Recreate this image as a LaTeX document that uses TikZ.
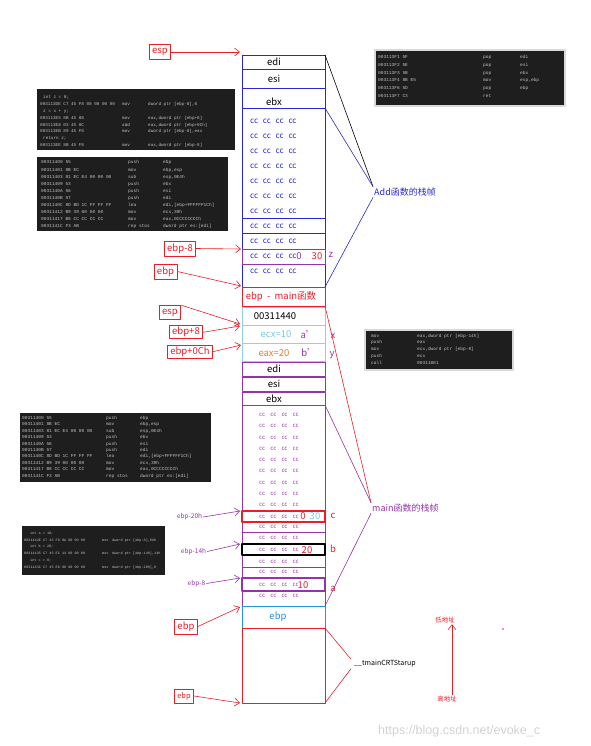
\documentclass[tikz,border=0pt]{standalone}
\usepackage{fontspec}
\setmainfont{Noto Sans CJK SC}
\newfontfamily\codefamily{Liberation Mono}
\newfontfamily\wmfamily{Liberation Sans}
\usepackage{xcolor}
\usepackage{array}
\usetikzlibrary{arrows.meta,calc}

\definecolor{addblue}{RGB}{40,40,210}
\definecolor{ccblue}{RGB}{50,50,210}
\definecolor{frmpurple}{RGB}{150,50,170}
\definecolor{lblred}{RGB}{235,30,40}
\definecolor{cellcyan}{RGB}{140,210,235}
\definecolor{ecxblue}{RGB}{120,200,230}
\definecolor{eaxorange}{RGB}{240,120,40}
\definecolor{ebpblue}{RGB}{30,150,215}
\definecolor{codebg}{RGB}{30,30,30}
\definecolor{codefg}{RGB}{195,195,195}
\definecolor{wmgray}{RGB}{210,210,210}

\newcommand\asmfont[2]{\codefamily\fontsize{#1}{#2}\selectfont}
\newcommand\ccrow[1]{cc\hspace{#1}cc\hspace{#1}cc\hspace{#1}cc}
\newcommand\srcln[2]{\multicolumn{3}{@{}l@{}}{\hspace{#1}#2}}

\begin{document}
\begin{tikzpicture}[x=1pt,y=-1pt,line join=round,
  >={Straight Barb[length=5pt,width=8pt]},
  lbl/.style={draw=lblred,text=lblred,line width=0.7pt,inner xsep=3pt,inner ysep=0pt,
    minimum height=15pt,font=\fontsize{9.5}{10}\selectfont},
  reg/.style={inner sep=0pt,font=\fontsize{9.5}{10}\selectfont},
  ccadd/.style={anchor=west,inner sep=0pt,text=ccblue,font=\fontsize{8}{9}\selectfont},
  ccmain/.style={anchor=west,inner sep=0pt,text=frmpurple,font=\fontsize{6}{7}\selectfont},
  asm/.style={anchor=base west,inner sep=0pt,text=codefg},
  ptr/.style={inner sep=1pt,text=frmpurple,font=\fontsize{6.5}{7}\selectfont},
  redarr/.style={->,draw=lblred,line width=0.6pt},
  purarr/.style={->,draw=frmpurple,line width=0.6pt}]
  \useasboundingbox (0,0) rectangle (590,746);

  % disassembly screenshots
  \fill[codebg] (37,89) rectangle (235,150);
  \node[asm,font=\asmfont{4.3}{6.9}] (addbody) at (40,98.5) {\begin{tabular}[t]{@{}p{82pt}@{}p{26pt}@{}l@{}}
    \srcln{3pt}{int z = 0;}\\
    003113DE C7 45 F8 00 00 00 00 & mov & dword ptr [ebp-8],0\\
    \srcln{3pt}{z = x + y;}\\
    003113E5 8B 45 08 & mov & eax,dword ptr [ebp+8]\\
    003113E8 03 45 0C & add & eax,dword ptr [ebp+0Ch]\\
    003113EB 89 45 F8 & mov & dword ptr [ebp-8],eax\\
    \srcln{3pt}{return z;}\\
    003113EE 8B 45 F8 & mov & eax,dword ptr [ebp-8]
  \end{tabular}};
  \fill[codebg] (37,157) rectangle (228,231);
  \node[asm,font=\asmfont{4.5}{7.05}] (addprolog) at (41,164) {\begin{tabular}[t]{@{}p{87pt}@{}p{35pt}@{}l@{}}
    00311400 55 & push & ebp\\
    00311401 8B EC & mov & ebp,esp\\
    00311403 81 EC E4 00 00 00 & sub & esp,0E4h\\
    00311409 53 & push & ebx\\
    0031140A 56 & push & esi\\
    0031140B 57 & push & edi\\
    0031140C 8D BD 1C FF FF FF & lea & edi,[ebp+FFFFFF1Ch]\\
    00311412 B9 39 00 00 00 & mov & ecx,39h\\
    00311417 B8 CC CC CC CC & mov & eax,0CCCCCCCCh\\
    0031141C F3 AB & rep stos & dword ptr es:[edi]
  \end{tabular}};
  \filldraw[fill=codebg,draw=gray!30,line width=1.2pt] (375,50) rectangle (565,106);
  \node[asm,font=\asmfont{4.5}{7.8}] (addepilog) at (378,58.5) {\begin{tabular}[t]{@{}p{105pt}@{}p{37pt}@{}l@{}}
    003113F1 5F & pop & edi\\
    003113F2 5E & pop & esi\\
    003113F3 5B & pop & ebx\\
    003113F4 8B E5 & mov & esp,ebp\\
    003113F6 5D & pop & ebp\\
    003113F7 C3 & ret &
  \end{tabular}};
  \filldraw[fill=codebg,draw=gray!30,line width=1.2pt] (365,330) rectangle (513,370);
  \node[asm,font=\asmfont{4.5}{6.8}] (callseq) at (371,337) {\begin{tabular}[t]{@{}p{46pt}@{}l@{}}
    mov & eax,dword ptr [ebp-14h]\\
    push & eax\\
    mov & ecx,dword ptr [ebp-8]\\
    push & ecx\\
    call & 003110E1
  \end{tabular}};
  \fill[codebg] (20,413) rectangle (211,482);
  \node[asm,font=\asmfont{4.5}{6.4}] (mainprolog) at (22,419.5) {\begin{tabular}[t]{@{}p{84pt}@{}p{34pt}@{}l@{}}
    00311400 55 & push & ebp\\
    00311401 8B EC & mov & ebp,esp\\
    00311403 81 EC E4 00 00 00 & sub & esp,0E4h\\
    00311409 53 & push & ebx\\
    0031140A 56 & push & esi\\
    0031140B 57 & push & edi\\
    0031140C 8D BD 1C FF FF FF & lea & edi,[ebp+FFFFFF1Ch]\\
    00311412 B9 39 00 00 00 & mov & ecx,39h\\
    00311417 B8 CC CC CC CC & mov & eax,0CCCCCCCCh\\
    0031141C F3 AB & rep stos & dword ptr es:[edi]
  \end{tabular}};
  \fill[codebg] (22,526) rectangle (165,575);
  \node[asm,font=\asmfont{3.5}{6.7}] (mainbody) at (24,534.5) {\begin{tabular}[t]{@{}p{78pt}@{}p{10pt}@{}l@{}}
    \srcln{6pt}{int a = 10;}\\
    0031142E C7 45 F8 0A 00 00 00 & mov & dword ptr [ebp-8],0Ah\\
    \srcln{6pt}{int b = 20;}\\
    00311435 C7 45 EC 14 00 00 00 & mov & dword ptr [ebp-14h],14h\\
    \srcln{6pt}{int c = 0;}\\
    0031143C C7 45 E0 00 00 00 00 & mov & dword ptr [ebp-20h],0
  \end{tabular}};

  % Add frame
  \draw[addblue,line width=0.8pt] (242,55) rectangle (325,69);
  \draw[addblue,line width=0.8pt] (242,69) rectangle (325,88);
  \draw[addblue,line width=0.8pt] (242,88) rectangle (325,108);
  \draw[addblue,line width=0.8pt] (242,108) rectangle (325,287);
  \foreach \yy in {218,233,249,264}
    \draw[addblue,line width=0.8pt] (242,\yy) -- (325,\yy);
  \draw[frmpurple,line width=0.8pt] (242,249) rectangle (325,264);
  \node[reg] (addedi) at (274,62) {edi};
  \node[reg] (addesi) at (274,79) {esi};
  \node[reg] (addebx) at (274,102) {ebx};
  \foreach \yy [count=\k] in {121,136,151,166,181,196,211,226,241,256,271}
    \node[ccadd] (addcc\k) at (250,\yy) {\ccrow{4.8pt}};
  \node[reg,text=frmpurple] (zzero) at (299,256) {0};
  \node[reg,text=lblred] (zval) at (317,256) {30};
  \node[reg,text=frmpurple] (zlbl) at (331,255) {z};

  % arguments and return address
  \draw[lblred,line width=0.8pt] (242,287) rectangle (325,306);
  \node[reg,text=lblred] (mainebp) at (281,297) {ebp\ \ -\ \ main函数};
  \draw[cellcyan,line width=0.8pt] (242,307) rectangle (325,325);
  \draw[cellcyan,line width=0.8pt] (242,325) rectangle (325,343);
  \draw[cellcyan,line width=0.8pt] (242,343) rectangle (325,361);
  \node[reg] (retaddr) at (275,316) {00311440};
  \node[reg,text=ecxblue] (argx) at (276,334) {ecx=10};
  \node[reg,text=frmpurple] (argxp) at (308,335) {a'};
  \node[reg,text=eaxorange] (argy) at (274,353) {eax=20};
  \node[reg,text=frmpurple] (argyp) at (309,353) {b'};
  \node[reg,text=frmpurple] (xlbl) at (333,336) {x};
  \node[reg,text=frmpurple] (ylbl) at (332,355) {y};

  % main frame
  \draw[frmpurple,line width=0.8pt] (242,362) rectangle (325,376);
  \draw[frmpurple,line width=0.8pt] (242,377) rectangle (325,391);
  \draw[frmpurple,line width=0.8pt] (242,392) rectangle (325,405);
  \draw[frmpurple,line width=0.8pt] (242,405) rectangle (325,606);
  \draw[frmpurple,line width=0.8pt] (242,532) -- (325,532);
  \draw[frmpurple,line width=0.8pt] (242,567) -- (325,567);
  \node[reg] (mainedi) at (274,369) {edi};
  \node[reg] (mainesi) at (274,384) {esi};
  \node[reg] (mainebx) at (274,399) {ebx};
  \foreach \yy [count=\k] in {415,426.2,437.5,448.7,460,471.2,482.5,493.7,505,516.5,527.3,538.3,549.8,561.7,572.3,584.7,596}
    \node[ccmain] (maincc\k) at (259,\yy) {\ccrow{5.2pt}};
  \draw[lblred,line width=1.6pt] (242,511) rectangle (325,522);
  \draw[black,line width=1.3pt] (242,544) rectangle (325,555);
  \draw[frmpurple,line width=1.2pt] (242,578) rectangle (325,591);
  \node[reg,text=lblred] (cnew) at (303,516.5) {0};
  \node[reg,text=ecxblue] (cold) at (315,516.5) {30};
  \node[reg,text=lblred] (clbl) at (333,516) {c};
  \node[reg,text=lblred] (bval) at (307,550) {20};
  \node[reg,text=lblred] (blbl) at (333,549) {b};
  \node[reg,text=lblred] (aval) at (303,585.5) {10};
  \node[reg,text=lblred] (albl) at (333,589) {a};

  % caller of main
  \draw[ebpblue,line width=0.8pt] (242,606) rectangle (325,628);
  \node[reg,text=ebpblue] (ebpcrt) at (278,617) {ebp};
  \draw[lblred,line width=0.8pt] (242,628) rectangle (325,703);

  % pointers
  \coordinate (espA) at (240,52);
  \coordinate (zslot) at (241,249);
  \coordinate (ebpA) at (241,286);
  \coordinate (espM) at (240,324);
  \coordinate (xslot) at (240,326);
  \coordinate (yslot) at (241,345);
  \coordinate (cslot) at (240,511);
  \coordinate (bslot) at (240,544);
  \coordinate (aslot) at (240,578);
  \coordinate (ebpM) at (240,607);
  \coordinate (ebpC) at (240,703);
  \node[lbl] (esptop) at (160,52) {esp};
  \node[lbl] (ebpm8) at (180,248.5) {ebp-8};
  \node[lbl] (ebpadd) at (165.5,271.5) {ebp};
  \node[lbl,minimum height=14pt] (espmain) at (170,312.5) {esp};
  \node[lbl,minimum height=13pt] (ebpp8) at (186,332.3) {ebp+8};
  \node[lbl,minimum height=13pt] (ebppc) at (190,351.7) {ebp+0Ch};
  \node[ptr] (ebpm20) at (189.5,517) {ebp-20h};
  \node[ptr] (ebpm14) at (193.5,551.5) {ebp-14h};
  \node[ptr] (ebpm8b) at (196.5,583.5) {ebp-8};
  \node[lbl] (ebpold) at (186,626.5) {ebp};
  \node[lbl,minimum height=14pt,font=\fontsize{7.5}{8}\selectfont] (ebpbase) at (184,696) {ebp};
  \draw[redarr] (esptop.east) -- (espA);
  \draw[redarr] (ebpm8.east) -- (zslot);
  \draw[redarr] (ebpadd.east) -- (ebpA);
  \draw[redarr] (espmain.north east) -- (espM);
  \draw[redarr] (ebpp8.east) -- (xslot);
  \draw[redarr] (ebppc.east) -- (yslot);
  \draw[purarr] (ebpm20.east) -- (cslot);
  \draw[purarr] (ebpm14.east) -- (bslot);
  \draw[purarr] (ebpm8b.east) -- (aslot);
  \draw[redarr] (ebpold.east) -- (ebpM);
  \draw[redarr] (ebpbase.east) -- (ebpC);

  % frame brackets
  \coordinate (addtop) at (325,55);
  \coordinate (addsave) at (325,108);
  \coordinate (addbot) at (325,287);
  \coordinate (maintop) at (325,306);
  \coordinate (mainsave) at (325,405);
  \coordinate (mainbot) at (325,606);
  \coordinate (crttop) at (325,628);
  \coordinate (crtbot) at (325,703);
  \node[anchor=west,inner sep=1pt,text=addblue,font=\fontsize{9}{10}\selectfont] (addlbl) at (373,192) {Add函数的栈帧};
  \node[anchor=west,inner sep=1pt,text=frmpurple,font=\fontsize{9}{10}\selectfont] (mainlbl) at (371,508) {main函数的栈帧};
  \node[anchor=west,inner xsep=3pt,inner ysep=1pt,font=\fontsize{7}{8}\selectfont] (crtlbl) at (351,664) {\_\_tmainCRTStarup};
  \draw[black,line width=0.6pt] (addtop) -- (addlbl.north west);
  \draw[addblue,line width=0.6pt] (addsave) -- (addlbl.north west);
  \draw[addblue,line width=0.6pt] (addlbl.south west) -- (addbot);
  \draw[lblred,line width=0.6pt] (maintop) -- (mainlbl.north west);
  \draw[frmpurple,line width=0.6pt] (mainsave) -- (mainlbl.north west);
  \draw[frmpurple,line width=0.6pt] (mainlbl.south west) -- (mainbot);
  \draw[lblred,line width=0.6pt] (crttop) -- (crtlbl.north west);
  \draw[lblred,line width=0.6pt] (crtlbl.south west) -- (crtbot);

  % address direction
  \coordinate (dirx) at (452,0);
  \node[inner sep=1pt,text=lblred,font=\fontsize{6.5}{7}\selectfont] (lowaddr) at (445,620) {低地址};
  \node[inner sep=1pt,text=lblred,font=\fontsize{6.5}{7}\selectfont] (highaddr) at (447,699) {高地址};
  \draw[redarr] (highaddr.north -| dirx) -- (lowaddr.south -| dirx);
  \fill[lblred] (503,629) circle (0.8);

  \node[anchor=west,inner sep=0pt,text=wmgray,font=\wmfamily\fontsize{12.5}{13}\selectfont] (wmark) at (378,731) {https://blog.csdn.net/evoke\_c};
\end{tikzpicture}
\end{document}
